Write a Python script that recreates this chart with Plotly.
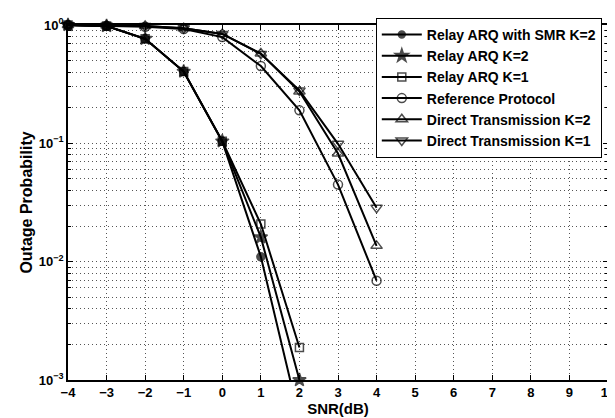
import plotly.graph_objects as go

snr = [-4, -3, -2, -1, 0, 1, 2, 3, 4]

series_names = [
    "Relay ARQ with SMR K=2",
    "Relay ARQ K=2",
    "Relay ARQ K=1",
    "Reference Protocol",
    "Direct Transmission K=2",
    "Direct Transmission K=1",
]

smr_k2 = [1.0, 0.98, 0.765, 0.404, 0.104, 0.011, 0.00047]
relay_k2 = [1.0, 0.98, 0.765, 0.404, 0.104, 0.0161, 0.00100]
relay_k1 = [1.0, 0.98, 0.765, 0.404, 0.104, 0.0208, 0.00188]
reference = [1.0, 0.985, 0.965, 0.925, 0.79, 0.45, 0.19, 0.0448, 0.0069]
direct_k2 = [1.0, 0.99, 0.98, 0.94, 0.84, 0.574, 0.274, 0.082, 0.0136]
direct_k1 = [1.0, 0.99, 0.98, 0.94, 0.84, 0.57, 0.28, 0.099, 0.0286]

values = [smr_k2, relay_k2, relay_k1, reference, direct_k2, direct_k1]
symbols = ["circle", "star", "square-open", "circle-open", "triangle-up-open", "triangle-down-open"]
sizes = [8, 10, 8, 9, 10, 10]

fig = go.Figure()
ymin = 1e-3
for name, vals, sym, sz in zip(series_names, values, symbols, sizes):
    xs = snr[:len(vals)]
    msize = [sz if v >= ymin * 0.999 else 0 for v in vals]
    fig.add_trace(go.Scatter(
        x=xs, y=vals, name=name, mode="lines+markers",
        line=dict(color="black", width=2),
        marker=dict(symbol=sym, size=msize, color="black",
                    line=dict(color="black", width=1.5)),
        cliponaxis=False,
    ))

font_family = "Liberation Sans, Arial, sans-serif"
grid_dash = "1px,3px"
grid_color = "#555"
fig.update_layout(
    width=615, height=418,
    margin=dict(l=60, r=8, t=11, b=46),
    paper_bgcolor="white", plot_bgcolor="white",
    font=dict(family=font_family, size=13, color="black"),
    showlegend=True,
    legend=dict(
        x=0.57, y=1.02, xanchor="left", yanchor="top",
        bgcolor="white", bordercolor="black", borderwidth=1,
        font=dict(family=font_family, size=14, color="black", weight="bold"),
        tracegroupgap=0, itemwidth=40,
    ),
    xaxis=dict(
        range=[-4, 10], dtick=1, tick0=-4,
        showgrid=True, gridcolor=grid_color, griddash=grid_dash, gridwidth=1,
        showline=True, linecolor="black", linewidth=1.5, mirror="ticks",
        ticks="inside", ticklen=5, tickcolor="black",
        tickfont=dict(size=13, weight="bold"),
        title=dict(text="<b>SNR(dB)</b>", font=dict(size=15), standoff=0),
        zeroline=False,
    ),
    yaxis=dict(
        type="log", range=[-3, 0],
        tickvals=[1e-3, 1e-2, 1e-1, 1],
        ticktext=["<b>10<sup>−3</sup></b>", "<b>10<sup>−2</sup></b>",
                  "<b>10<sup>−1</sup></b>", "<b>10<sup>0</sup></b>"],
        showgrid=True, gridcolor=grid_color, griddash=grid_dash, gridwidth=1,
        showline=True, linecolor="black", linewidth=1.5, mirror="ticks",
        ticks="inside", ticklen=5, tickcolor="black",
        tickfont=dict(size=13),
        minor=dict(dtick="D1", ticks="inside", ticklen=3, tickcolor="black",
                   showgrid=True, gridcolor=grid_color, griddash=grid_dash, gridwidth=1),
        title=dict(text="<b>Outage Probability</b>", font=dict(size=16), standoff=2),
        zeroline=False,
    ),
)

fig.write_html("out.html")
